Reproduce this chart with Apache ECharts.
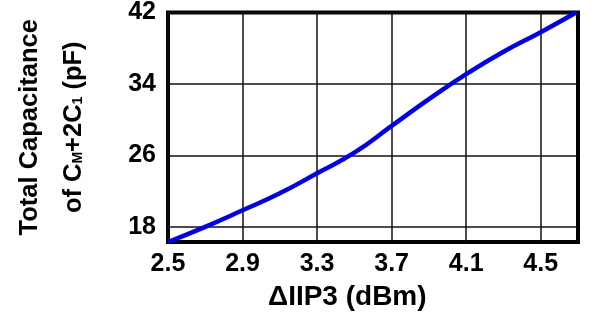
<!DOCTYPE html>
<html><head><meta charset="utf-8">
<script src="https://cdn.jsdelivr.net/npm/echarts@6/dist/echarts.min.js"></script>
<style>html,body{margin:0;padding:0;background:#fff}#c{width:596px;height:322px}</style>
</head><body><div id="c"></div>
<script>
var xValues = [2.5, 2.7, 2.9, 3.1, 3.3, 3.5, 3.7, 3.9, 4.1, 4.3, 4.5, 4.69];
var capValues = [16.3, 18.0, 19.85, 21.75, 24.0, 26.3, 29.3, 32.3, 35.1, 37.6, 39.8, 42.0];
var xTicks = [2.5, 2.9, 3.3, 3.7, 4.1, 4.5];
var yTicks = [18, 26, 34, 42];
var xTitle = 'ΔIIP3 (dBm)';

var chart = echarts.init(document.getElementById('c'));
var font = '"Liberation Sans", Arial, sans-serif';
chart.setOption({
  animation: false,
  title: {text: xTitle, left: 268, top: 283, padding: 0,
    textStyle: {fontFamily: font, fontWeight: 'bold', fontSize: 28, color: '#000'}},
  grid: {left: 139, right: 18, top: 10, bottom: 80, show: true, borderColor: '#000', borderWidth: 4, backgroundColor: '#fff'},
  xAxis: {
    type: 'value', min: 2.5, max: 4.7,
    axisLine: {show: false},
    axisTick: {show: false, customValues: xTicks},
    axisLabel: {customValues: xTicks, fontFamily: font, fontWeight: 'bold', fontSize: 25, color: '#000', margin: 10,
      formatter: function (v) { return v.toFixed(1); }},
    splitLine: {show: true, customValues: xTicks, lineStyle: {color: '#111', width: 1.5}}
  },
  yAxis: {
    type: 'value', min: 16.3, max: 42,
    name: 'Total Capacitance\n{t|of C}{s|M}{t|+2C}{s|1}{t| (pF)}', nameLocation: 'middle', nameGap: 72, nameRotate: 90,
    nameTextStyle: {fontFamily: font, fontWeight: 'bold', fontSize: 25.5, color: '#000', lineHeight: 44,
      rich: {
        t: {fontFamily: font, fontWeight: 'bold', fontSize: 25.5, color: '#000', lineHeight: 44},
        s: {fontFamily: font, fontWeight: 'bold', fontSize: 14, color: '#000', lineHeight: 14, padding: [9, 0, 0, 0]}
      }},
    axisLine: {show: false},
    axisTick: {show: false, customValues: yTicks},
    axisLabel: {customValues: yTicks, fontFamily: font, fontWeight: 'bold', fontSize: 25, color: '#000', margin: 12},
    splitLine: {show: true, customValues: yTicks, lineStyle: {color: '#111', width: 1.5}}
  },
  series: [{
    type: 'line', smooth: 0.5, symbol: 'none',
    data: xValues.map(function (x, i) { return [x, capValues[i]]; }),
    lineStyle: {color: '#0000f0', width: 4.5}
  }]
});
</script></body></html>
